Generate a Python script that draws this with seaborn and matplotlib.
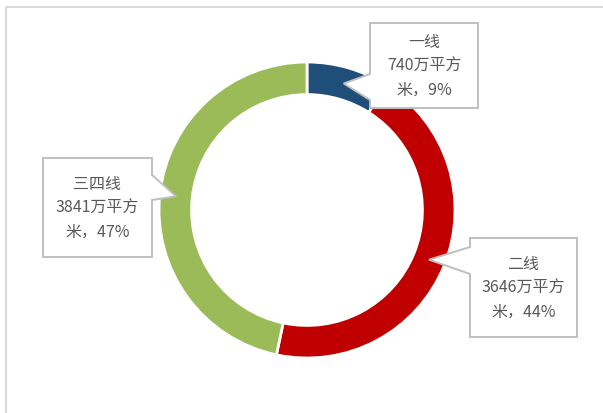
import matplotlib
matplotlib.use("Agg")
import numpy as np
import matplotlib.pyplot as plt
import matplotlib.transforms as mtransforms
from matplotlib.patches import Polygon, Rectangle
import seaborn as sns

# 商品房销售面积（万平方米）按城市等级
categories = ["一线", "二线", "三四线"]
areas = [740, 3646, 3841]
shares = [9, 44, 47]
colors = ["#1F4E79", "#C00000", "#9BBB59"]

sns.set_theme(style="white")
plt.rcParams["font.family"] = ["Noto Sans CJK SC", "DejaVu Sans"]

W, H = 603, 413
fig = plt.figure(figsize=(W / 100, H / 100), dpi=100)
fig.patch.set_facecolor("white")

# pixel coordinates with origin top-left
px = mtransforms.Affine2D().scale(1 / W, -1 / H).translate(0, 1) + fig.transFigure

# outer frame
fig.add_artist(Rectangle((6, 7), W + 20, H + 20, transform=px, fill=False,
                         edgecolor="#D6D6D6", linewidth=1.3))

# donut
cx, cy, R = 307, 210, 148
ring = 0.22
ax = fig.add_axes([(cx - R) / W, (H - cy - R) / H, 2 * R / W, 2 * R / H])
wedges, _ = ax.pie(areas, colors=colors, startangle=90, counterclock=False,
                   radius=1.0,
                   wedgeprops=dict(width=ring, edgecolor="white", linewidth=2))
ax.set_xlim(-1, 1)
ax.set_ylim(-1, 1)
ax.set_aspect("auto")
ax.axis("off")

# callout boxes: (left, top, right, bottom), tail side, tail attachment y's
boxes = {
    "一线": ((370, 23, 478, 108), "left", (74, 100)),
    "二线": ((470, 238, 577, 337), "left", (247, 274)),
    "三四线": ((43, 158, 152, 257), "right", (175, 200)),
}

for w, cat, val, pct in zip(wedges, categories, areas, shares):
    mid = np.deg2rad((w.theta1 + w.theta2) / 2)
    rr = 1 - ring / 2
    tx = cx + R * rr * np.cos(mid)
    ty = cy - R * rr * np.sin(mid)
    (x0, y0, x1, y1), side, (ta, tb) = boxes[cat]
    if side == "left":
        pts = [(x0, y0), (x1, y0), (x1, y1), (x0, y1), (x0, tb), (tx, ty), (x0, ta)]
    else:
        pts = [(x0, y0), (x1, y0), (x1, ta), (tx, ty), (x1, tb), (x1, y1), (x0, y1)]
    fig.add_artist(Polygon(pts, closed=True, transform=px, facecolor="white",
                           edgecolor="#BFBFBF", linewidth=1.4, joinstyle="miter",
                           zorder=3))
    label = f"{cat}\n{val}万平方\n米，{pct}%"
    fig.text((x0 + x1) / 2, (y0 + y1) / 2 + 1, label, transform=px, ha="center",
             va="center", fontsize=11.5, color="#595959", linespacing=1.55,
             zorder=4)

fig.savefig("out.png", dpi=100, facecolor="white")
